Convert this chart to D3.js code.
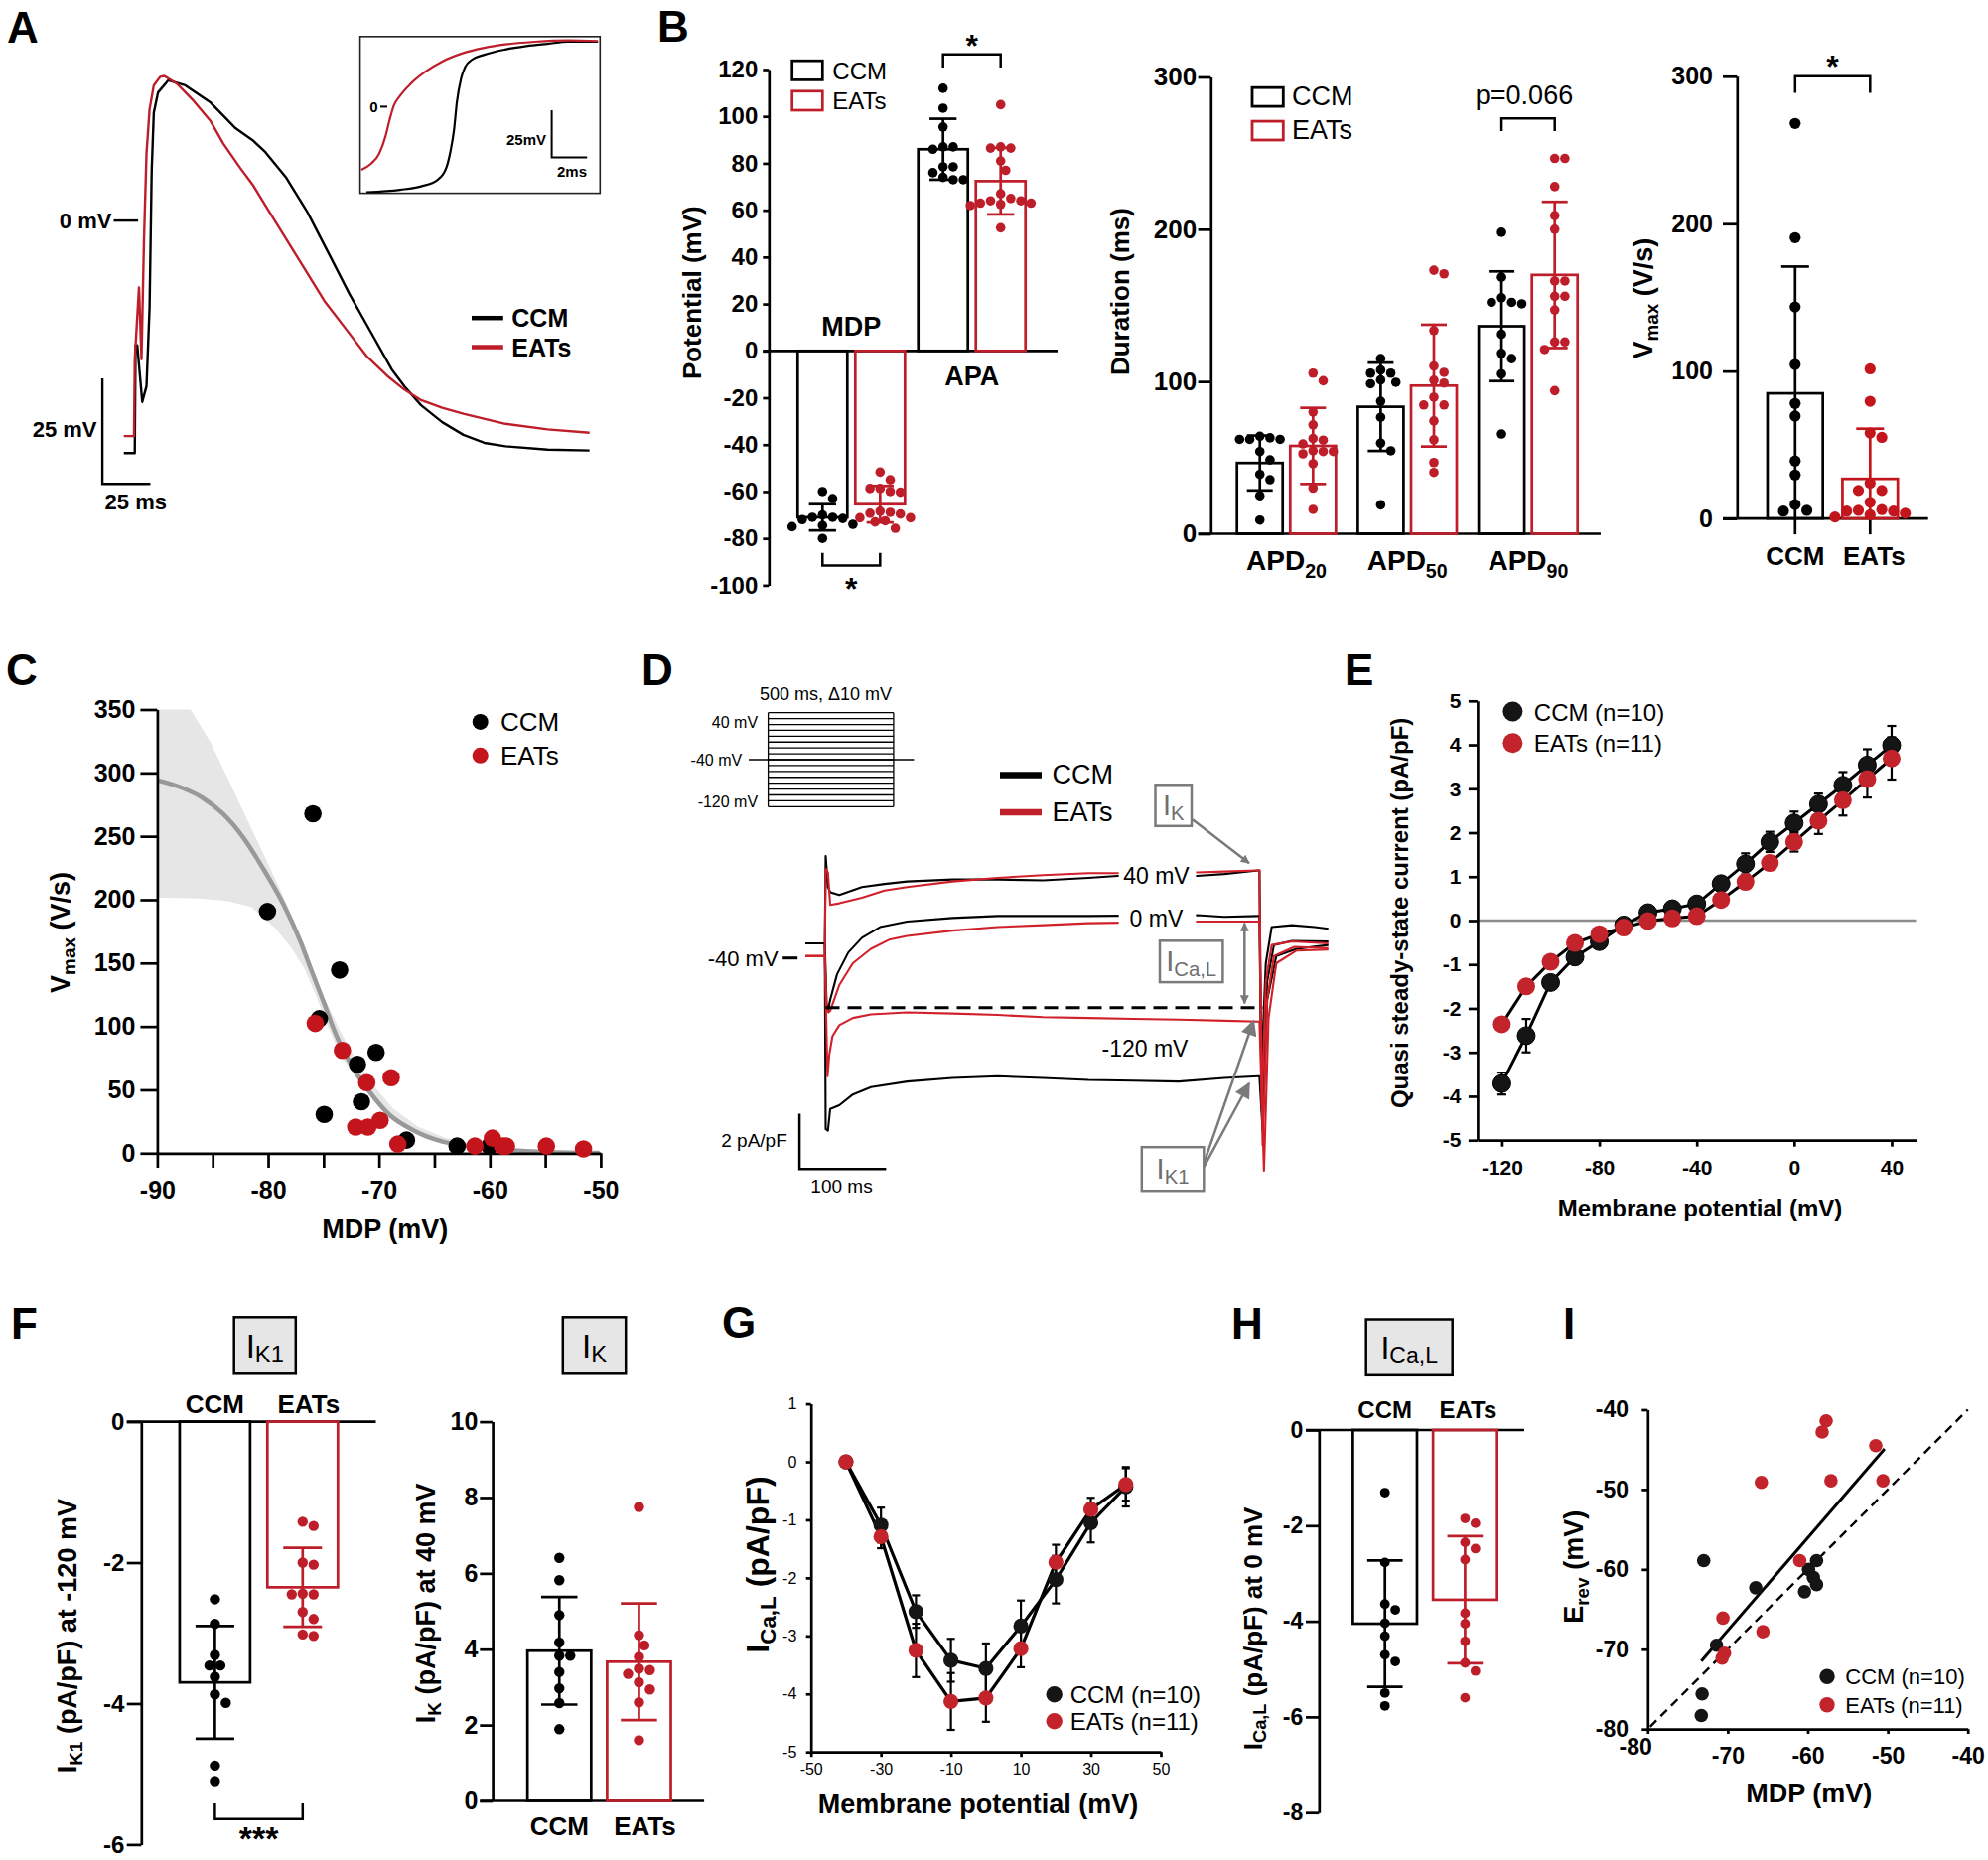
<!DOCTYPE html>
<html><head><meta charset="utf-8"><title>Figure</title>
<script src="https://cdn.jsdelivr.net/npm/d3@7/dist/d3.min.js"></script>
<style>html,body{margin:0;padding:0;background:#fff;}svg{display:block;}</style>
</head><body>
<svg id="fig" width="2002" height="1873" viewBox="0 0 2002 1873"></svg>
<script>
// ======================= DATA =======================
// A: representative action potentials [time (ms), Vm (mV)]
const apCCM = [[0,-55.0],[5.7,-55.0],[6.1,-29.5],[7.0,-29.5],[9.6,-42.9],[11.8,-39.2],[13.4,-20.6],[14.5,11.7],[15.6,25.5],[17.8,30.3],[23.2,33.2],[32.0,32.0],[45.2,27.9],[58.3,21.8],[67.1,19.0],[73.7,16.2],[84.6,10.1],[95.6,2.0],[106.6,-7.7],[117.5,-17.4],[128.5,-26.3],[139.5,-35.2],[146.1,-39.2],[154.8,-43.7],[165.8,-47.7],[176.8,-50.7],[187.7,-52.6],[198.7,-53.4],[220.6,-54.2],[242.5,-54.4]];
const apEATs = [[0,-51.0],[5.3,-51.0],[5.7,-32.8],[7.9,-15.8],[9.2,-32.8],[10.5,-4.4],[11.8,15.8],[13.4,26.3],[15.6,32.0],[18.9,34.0],[21.1,34.2],[27.6,32.4],[36.4,28.3],[45.2,23.5],[51.8,18.2],[60.5,12.5],[67.1,8.5],[73.7,3.6],[84.6,-4.4],[93.4,-10.9],[104.4,-19.0],[115.4,-25.5],[126.3,-32.0],[137.3,-36.8],[146.1,-40.0],[154.8,-42.5],[165.8,-44.3],[176.8,-45.7],[198.7,-48.1],[220.6,-49.4],[242.5,-50.2]];
// A inset: upstroke detail [time (ms), Vm (mV)]
const upCCM = [[0.29,-45.3],[2.19,-44.0],[3.38,-42.2],[4.33,-38.6],[4.81,-32.2],[5.05,-23.2],[5.24,-12.3],[5.40,2.2],[5.64,14.9],[5.88,21.2],[6.24,24.8],[6.95,27.5],[8.14,30.3],[9.33,32.1],[10.52,33.3],[11.71,34.4],[13.38,34.4]];
const upEATs = [[0,-33.5],[0.52,-30.4],[1.0,-25.0],[1.36,-15.9],[1.6,-6.9],[1.83,0.4],[2.19,5.8],[2.79,12.1],[3.62,18.5],[4.57,23.9],[5.76,28.4],[6.95,31.2],[8.14,33.0],[9.81,34.4],[11.71,35.1],[13.38,34.8]];

// B: MDP / APA (mV)
const groupNames = ["CCM", "EATs"];
const potCats = ["MDP", "APA"];
const potTicks = [-100,-80,-60,-40,-20,0,20,40,60,80,100,120];
const potMeanCCM = [-71.0, 86.0];
const potSdCCM = [5.6, 13.0];
const potMeanEATs = [-65.4, 72.4];
const potSdEATs = [7.8, 14.2];
const mdpCCM = [-63,-60,-71,-71.5,-71,-70,-72,-74.5,-75,-74,-80];
const mdpEATs = [-51.7,-55,-58.7,-60.3,-60,-58.7,-68.4,-69.6,-69.3,-68.9,-71.2,-71.2,-72.5,-73,-75.7];
const apaCCM = [112,103.5,95.5,87,86,87,78.5,78.5,76,74,73,73];
const apaEATs = [105,87,86.5,86.5,81,77,67,64,63,62,65,63,62.5,64,52.5];
// B: APD (ms)
const apdCats = ["20", "50", "90"];
const apdTicks = [0, 100, 200, 300];
const apdMeanCCM = [46.5, 83.4, 136.3];
const apdSdCCM = [18, 29, 36];
const apdMeanEATs = [57.7, 97.3, 170];
const apdSdEATs = [25, 40, 48];
const apd20CCM = [62,62,62,63,64,54,48.5,39,35.5,25,9];
const apd20EATs = [100.5,105.5,80,71.5,62.5,61.5,54.5,54,54,59,52.5,46,30,16];
const apd50CCM = [115,101,105.5,105.5,107.5,98.5,99.5,87,76.5,59.5,54.5,19];
const apd50EATs = [170.7,173.1,133.5,110.2,106,100.9,99,84.6,89.7,84.6,74.1,61.7,46.8,40.3];
const apd90CCM = [198,168.5,152,155,152,151,131,115,118.5,105,65.5];
const apd90EATs = [246.5,246.5,228,209,200,166,166,156,156,147,126,126,121,94];
// B: Vmax (V/s)
const vmaxTicks = [0, 100, 200, 300];
const vmaxMean = [84.9, 26.9];
const vmaxSd = [86, 34];
const vmaxCCM = [268,190.5,143.5,104.5,78,69.5,39,29.5,9.5,5,5.5];
const vmaxEATs = [101.5,79.5,55,58,24,19,19,11,5,2.5,5,5.5,3.5,6,1];

// C: Vmax vs MDP [MDP mV, Vmax V/s]
const cTicksX = [-90,-85,-80,-75,-70,-65,-60,-55,-50];
const cTicksY = [0,50,100,150,200,250,300,350];
const cCCM = [[-75.96,267.8],[-80.06,190.7],[-73.55,144.5],[-75.38,106.1],[-71.94,70.2],[-70.26,79.6],[-71.58,40.6],[-74.94,30.6],[-67.52,10.3],[-62.95,5.6],[-60.03,5.6]];
const cEATs = [[-75.75,102.4],[-73.3,81.1],[-71.1,55.6],[-68.9,59.6],[-72.1,20.6],[-71.0,20.6],[-69.9,25.9],[-68.3,7.2],[-61.35,5.6],[-59.77,11.9],[-58.86,5.6],[-58.5,5.6],[-54.9,5.6],[-51.55,3.4]];
const cFit = [[-90,294.3],[-87.73,288.1],[-85.91,280.3],[-84.08,267.8],[-82.25,249.1],[-80.42,224.1],[-78.6,196.0],[-77.13,167.9],[-76.04,142.9],[-74.94,118.0],[-73.85,93.0],[-72.38,68.0],[-70.92,49.3],[-69.09,30.6],[-66.9,18.1],[-64.71,10.3],[-62.15,5.6],[-58.5,2.5],[-54.84,0.9],[-50.1,0.3]];
const cBandUpper = [[-90,350],[-87.0,350],[-85.18,324.0],[-82.98,283.4],[-80.79,242.8],[-78.6,202.2],[-77.13,171.0],[-76.04,146.1],[-74.94,122.7],[-73.48,96.1],[-72.02,72.7],[-70.56,54.0],[-68.73,35.3],[-66.54,21.2],[-63.98,11.9],[-60.32,5.0],[-56.67,1.9],[-50.1,0.6]];
const cBandLower = [[-90,201.6],[-87.73,201.3],[-85.91,200.7],[-83.71,199.1],[-81.52,194.4],[-79.33,177.3],[-77.87,161.7],[-76.77,146.1],[-75.67,124.2],[-74.58,99.3],[-73.48,77.4],[-72.02,58.7],[-70.56,43.1],[-68.36,23.7],[-65.8,11.2],[-63.98,6.9],[-60.32,2.5],[-56.67,0.9],[-50.1,0.3]];

// D: current traces [time from step onset (ms), current (pA/pF)]
const protoLevels = [40,30,20,10,0,-10,-20,-30,-40,-50,-60,-70,-80,-90,-100,-110,-120];
const d40CCM = [[-23.5,2.33],[-1,2.33],[0,5.49],[2.6,4.37],[5.2,4.18],[15.7,4.08],[41.8,4.37],[67.9,4.48],[94,4.57],[146.3,4.64],[198.5,4.64],[250.8,4.61],[303,4.70],[337,4.77],[428.4,4.77],[459.8,4.84],[499,4.97],[500.5,4.97],[502.6,-2.35],[507.8,1.61],[514.6,2.92],[538.1,2.99],[564.3,2.92],[580,2.86]];
const d40EATs = [[-23.5,1.87],[-1,1.87],[0,5.03],[2.6,4.90],[5.2,3.72],[15.7,3.78],[41.8,3.98],[67.9,4.24],[94,4.37],[146.3,4.57],[198.5,4.70],[250.8,4.80],[303,4.87],[337,4.87],[428.4,4.90],[459.8,4.93],[499,4.97],[500.5,4.97],[503.1,-3.66],[507.8,0.95],[514.6,2.27],[538.1,2.40],[580,2.33]];
const d0CCM = [[-23.5,2.33],[-1,2.33],[1,0.16],[2.6,-0.11],[5.2,0.29],[13.1,1.21],[26.1,2.0],[41.8,2.53],[62.7,2.92],[94,3.12],[146.3,3.25],[198.5,3.32],[250.8,3.32],[303,3.32],[428.4,3.35],[459.8,3.29],[499,3.32],[500.5,3.32],[503.1,-3.66],[509.4,0.95],[517.2,2.27],[538.1,2.42],[580,2.40]];
const d0EATs = [[-23.5,1.87],[-1,1.87],[1,0.03],[3.1,-0.17],[5.2,-0.11],[15.7,0.82],[31.3,1.61],[52.2,2.13],[73.1,2.46],[94,2.60],[146.3,2.79],[198.5,2.92],[250.8,2.99],[303,3.06],[428.4,3.12],[459.8,3.12],[499,3.12],[500.5,3.12],[504.2,-4.98],[509.4,0.29],[517.2,1.87],[540.8,2.20],[580,2.16]];
const d120CCM = [[-23.5,2.33],[-1,2.33],[0,-4.39],[2.6,-4.45],[5.2,-3.66],[15.7,-3.53],[31.3,-3.14],[52.2,-2.87],[94,-2.67],[146.3,-2.54],[198.5,-2.48],[250.8,-2.54],[303,-2.61],[355.3,-2.64],[407.5,-2.67],[459.8,-2.54],[499,-2.48],[500.5,-2.48],[504.2,-4.45],[509.4,0.29],[519.9,1.87],[543.4,2.13],[580,2.27]];
const d120EATs = [[-23.5,1.87],[-1,1.87],[2.1,-2.48],[4.2,-1.69],[7.8,-1.03],[15.7,-0.63],[31.3,-0.37],[52.2,-0.24],[94,-0.17],[146.3,-0.21],[198.5,-0.26],[250.8,-0.34],[303,-0.37],[355.3,-0.40],[407.5,-0.43],[459.8,-0.47],[499,-0.50],[500.5,-0.50],[505.7,-5.90],[511,-0.37],[519.9,1.61],[543.4,2.07],[580,2.11]];

// E: quasi steady-state I-V (mean, SEM)
const eV = [-120,-110,-100,-90,-80,-70,-60,-50,-40,-30,-20,-10,0,10,20,30,40];
const eTicksX = [-120,-80,-40,0,40];
const eTicksY = [-5,-4,-3,-2,-1,0,1,2,3,4,5];
const eCCM = [-3.71,-2.62,-1.41,-0.83,-0.48,-0.10,0.18,0.27,0.38,0.84,1.29,1.79,2.22,2.65,3.08,3.54,3.99];
const eCCMsem = [0.25,0.38,0.12,0.12,0.08,0.05,0.05,0.05,0.08,0.1,0.24,0.23,0.26,0.24,0.3,0.36,0.44];
const eEATs = [-2.36,-1.50,-0.94,-0.51,-0.31,-0.16,-0.01,0.05,0.10,0.47,0.88,1.31,1.79,2.27,2.74,3.22,3.69];
const eEATsSem = [0.1,0.1,0.08,0.08,0.05,0.05,0.05,0.05,0.05,0.1,0.15,0.15,0.22,0.3,0.35,0.42,0.48];

// F: IK1 at -120 mV, IK at 40 mV (pA/pF)
const ik1Ticks = [-6,-4,-2,0];
const ik1Mean = [-3.70, -2.35];
const ik1Sd = [0.80, 0.56];
const ik1CCM = [-2.52,-2.87,-3.31,-3.46,-3.46,-3.62,-3.99,-3.87,-4.88,-5.10];
const ik1EATs = [-1.48,-1.42,-2.03,-2.0,-2.44,-2.45,-2.45,-2.80,-2.70,-3.04,-3.02];
const ikTicks = [0,2,4,6,8,10];
const ikMean = [3.96, 3.67];
const ikSd = [1.42, 1.54];
const ikCCM = [6.41,5.82,4.90,4.18,3.83,3.83,3.40,2.97,2.58,1.89];
const ikEATs = [7.75,4.37,4.10,3.80,3.49,3.45,3.35,3.13,2.94,2.60,1.60];

// G: ICa,L I-V (mean, SEM)
const gV = [-40,-30,-20,-10,0,10,20,30,40];
const gTicksX = [-50,-30,-10,10,30,50];
const gTicksY = [-5,-4,-3,-2,-1,0,1];
const gCCM = [0,-1.09,-2.58,-3.42,-3.56,-2.83,-2.03,-1.05,-0.43];
const gCCMsem = [0,0.3,0.28,0.37,0.43,0.44,0.41,0.34,0.34];
const gEATs = [0,-1.29,-3.25,-4.13,-4.07,-3.22,-1.73,-0.82,-0.39];
const gEATsSem = [0,0.2,0.46,0.49,0.41,0.32,0.3,0.2,0.28];

// H: ICa,L at 0 mV (pA/pF)
const caTicks = [-8,-6,-4,-2,0];
const caMean = [-4.05, -3.55];
const caSd = [1.32, 1.33];
const caCCM = [-1.31,-2.77,-3.76,-3.64,-4.04,-4.31,-4.84,-4.70,-5.50,-5.77];
const caEATs = [-1.95,-1.85,-2.48,-2.35,-2.71,-3.83,-4.05,-4.42,-4.87,-5.04,-5.60];

// I: Erev vs MDP [MDP mV, Erev mV]
const iTicks = [-80,-70,-60,-50,-40];
const iCCM = [[-73.0,-58.9],[-66.5,-62.3],[-71.4,-69.5],[-73.2,-75.6],[-73.3,-78.3],[-59.9,-60.0],[-58.9,-58.9],[-59.3,-61.0],[-58.9,-61.9],[-60.4,-62.8]];
const iEATs = [[-57.7,-41.4],[-58.2,-42.8],[-51.5,-44.5],[-65.8,-49.1],[-57.1,-48.9],[-50.6,-48.9],[-61.0,-58.9],[-70.6,-66.1],[-65.6,-67.8],[-70.4,-70.5],[-70.7,-71.1]];
const iFitX = [-73.3, -50.4];
const iFitY = [-71.5, -44.9];
const iIdentity = [-79.7, -40];

// ======================= DRAWING =======================
const FONT = '"Liberation Sans", Arial, Helvetica, sans-serif';
const RED = "#bd1e2a";
const DOTRED = "#c4141c";
const MRED = "#c3232b";
const GRAY = "#7a7a7a";

const svg = d3.select("#fig").attr("font-family", FONT);
svg.append("rect").attr("width", 2002).attr("height", 1873).attr("fill", "#fff");
const defs = svg.append("defs");

function text(parent, x, y, parts, o = {}) {
  const size = o.size || 20;
  const t = parent.append("text").attr("x", x).attr("y", y)
    .attr("font-family", FONT).attr("font-size", size)
    .attr("font-weight", o.bold ? "bold" : "normal")
    .attr("text-anchor", o.anchor || "middle")
    .attr("fill", o.fill || "#000");
  if (o.central) t.attr("dominant-baseline", "central");
  if (o.rot) t.attr("transform", `rotate(${o.rot},${x},${y})`);
  if (!Array.isArray(parts)) parts = [parts];
  let shift = 0;
  const sub = size * (o.subDy || 0.3);
  parts.forEach(p => {
    const isSub = Array.isArray(p);
    const ts = t.append("tspan").text(isSub ? p[0] : p);
    const target = isSub ? sub : 0;
    if (target !== shift) { ts.attr("dy", target - shift); shift = target; }
    if (isSub) ts.attr("font-size", size * (o.subScale || 0.7));
  });
  return t;
}
function styleAxis(g, size, bold, sw) {
  g.attr("font-family", FONT);
  g.select(".domain").attr("stroke", "#000").attr("stroke-width", sw);
  g.selectAll(".tick line").attr("stroke", "#000").attr("stroke-width", sw);
  g.selectAll(".tick text").attr("font-size", size).attr("font-weight", bold ? "bold" : "normal")
    .attr("fill", "#000").attr("font-family", FONT);
}
function hline(g, x1, x2, y, sw, color = "#000") {
  g.append("line").attr("x1", x1).attr("x2", x2).attr("y1", y).attr("y2", y).attr("stroke", color).attr("stroke-width", sw);
}
function vline(g, x, y1, y2, sw, color = "#000") {
  g.append("line").attr("x1", x).attr("x2", x).attr("y1", y1).attr("y2", y2).attr("stroke", color).attr("stroke-width", sw);
}
// simple beeswarm: dots keep their value on y, spread sideways only when they would overlap
function swarm(vals, y, cx, r) {
  const d = 2 * r + 0.6;
  const pts = vals.map(v => ({ v, y: y(v) })).sort((a, b) => a.y - b.y);
  const placed = [];
  pts.forEach(p => {
    let off = 0;
    for (let n = 0; n < 80; n++) {
      const k = Math.ceil(n / 2);
      off = n === 0 ? 0 : (n % 2 ? k : -k) * d * 0.5;
      const ok = placed.every(q => (q.x - (cx + off)) ** 2 + (q.y - p.y) ** 2 >= (d * 0.97) ** 2);
      if (ok) break;
    }
    p.x = cx + off;
    placed.push(p);
  });
  return placed;
}
function barSeries(g, cx, w, y, mean, sd, color, vals, r, capW, sw) {
  const y0 = y(0), ym = y(mean);
  g.append("rect").attr("x", cx - w / 2).attr("y", Math.min(y0, ym))
    .attr("width", w).attr("height", Math.abs(ym - y0))
    .attr("fill", "none").attr("stroke", color).attr("stroke-width", sw);
  let lo = mean - sd, hi = mean + sd;
  const cutLo = mean > 0 && lo < 0, cutHi = mean < 0 && hi > 0;
  if (cutLo) lo = 0;
  if (cutHi) hi = 0;
  vline(g, cx, y(lo), y(hi), sw, color);
  if (!cutHi) hline(g, cx - capW / 2, cx + capW / 2, y(hi), sw, color);
  if (!cutLo) hline(g, cx - capW / 2, cx + capW / 2, y(lo), sw, color);
  const pts = swarm(vals, y, cx, r);
  g.selectAll(null).data(pts).enter().append("circle")
    .attr("cx", d => d.x).attr("cy", d => d.y).attr("r", r).attr("fill", color);
}
function errBars(g, xs, ys, es, x, y, capW, sw) {
  xs.forEach((v, i) => {
    if (!es[i]) return;
    const cx = x(v), a = y(ys[i] - es[i]), b = y(ys[i] + es[i]);
    vline(g, cx, a, b, sw);
    hline(g, cx - capW / 2, cx + capW / 2, a, sw);
    hline(g, cx - capW / 2, cx + capW / 2, b, sw);
  });
}
function grayBox(g, x, y, w, h, parts, size) {
  g.append("rect").attr("x", x).attr("y", y).attr("width", w).attr("height", h)
    .attr("fill", "#e6e6e6").attr("stroke", "#000").attr("stroke-width", 2.5);
  text(g, x + w / 2, y + h / 2, parts, { size, central: true, subScale: 0.72, subDy: 0.26 });
}

// Panel letters
[["A", 7, 43], ["B", 662, 42], ["C", 6, 690], ["D", 646, 689.5], ["E", 1354, 690],
 ["F", 11, 1347.5], ["G", 727, 1346.5], ["H", 1240, 1347.5], ["I", 1574, 1347.5]].forEach(([s, x, y]) => {
  text(svg, x, y, s, { size: 44, bold: true, anchor: "start" });
});

// ---------------- Panel A ----------------
{
  const g = svg.append("g");
  const x = d3.scaleLinear().domain([0, 250]).range([124.7, 124.7 + 1.934 * 250]);
  const y = d3.scaleLinear().domain([-60, 40]).range([222.1 + 4.256 * 60, 222.1 - 4.256 * 40]);
  const line = d3.line().x(d => x(d[0])).y(d => y(d[1]));
  g.append("path").datum(apCCM).attr("d", line).attr("fill", "none").attr("stroke", "#000").attr("stroke-width", 2.4).attr("stroke-linejoin", "round");
  g.append("path").datum(apEATs).attr("d", line).attr("fill", "none").attr("stroke", RED).attr("stroke-width", 2.4).attr("stroke-linejoin", "round");
  hline(g, x(0) - 10.2, x(0) + 14.4, y(0), 2.4);
  text(g, x(0) - 12.3, y(0), "0 mV", { size: 22, bold: true, anchor: "end", central: true });
  const sbx = 103.1, sby = 487.3;
  g.append("path").attr("d", `M${sbx},${sby - (y(0) - y(25))}V${sby}H${sbx + (x(25) - x(0))}`)
    .attr("fill", "none").attr("stroke", "#000").attr("stroke-width", 2.4);
  text(g, 97.5, 432.2, "25 mV", { size: 22, bold: true, anchor: "end", central: true });
  text(g, 136.8, 504.5, "25 ms", { size: 22, bold: true, central: true });
  hline(g, 475, 506.8, 320.2, 4.5);
  hline(g, 475, 506.8, 349.5, 4.5, RED);
  text(g, 515.3, 320.2, "CCM", { size: 25, bold: true, anchor: "start", central: true });
  text(g, 515.3, 349.5, "EATs", { size: 25, bold: true, anchor: "start", central: true });
  // inset
  const bx = 362.6, by = 36.8, bw = 241.7, bh = 157.8;
  defs.append("clipPath").attr("id", "insetClip").append("rect").attr("x", bx).attr("y", by).attr("width", bw).attr("height", bh);
  g.append("rect").attr("x", bx).attr("y", by).attr("width", bw).attr("height", bh).attr("fill", "#fff").attr("stroke", "#222").attr("stroke-width", 1.6);
  const xi = d3.scaleLinear().domain([0, 13.5]).range([363.9, 363.9 + 17.81 * 13.5]);
  const yi = d3.scaleLinear().domain([-50, 40]).range([107.4 + 1.901 * 50, 107.4 - 1.901 * 40]);
  const li = d3.line().x(d => xi(d[0])).y(d => yi(d[1])).curve(d3.curveMonotoneX);
  const gc = g.append("g").attr("clip-path", "url(#insetClip)");
  gc.append("path").datum(upCCM).attr("d", li).attr("fill", "none").attr("stroke", "#000").attr("stroke-width", 2.2);
  gc.append("path").datum(upEATs).attr("d", li).attr("fill", "none").attr("stroke", RED).attr("stroke-width", 2.2);
  const ix = 555.6, iy = 158.4;
  g.append("path").attr("d", `M${ix},${iy - (yi(0) - yi(25))}V${iy}H${ix + (xi(2) - xi(0))}`)
    .attr("fill", "none").attr("stroke", "#000").attr("stroke-width", 2);
  text(g, 550, 139.5, "25mV", { size: 15, bold: true, anchor: "end", central: true });
  text(g, 576, 172.2, "2ms", { size: 15, bold: true, central: true });
  text(g, 372.3, yi(0), "0", { size: 15, bold: true, anchor: "start", central: true });
  hline(g, 383, 390, yi(0), 2);
}

// ---------------- Panel B (potentials) ----------------
{
  const g = svg.append("g");
  const y = d3.scaleLinear().domain([-100, 120]).range([589.4, 70]);
  const xg = d3.scaleBand().domain(potCats).range([796.6, 1039.4]);
  const xi = d3.scaleBand().domain(groupNames).range([6.7, 114.7]).paddingInner(0.138);
  const ax = g.append("g").attr("transform", "translate(774.3,0)")
    .call(d3.axisLeft(y).tickValues(potTicks).tickFormat(d => String(d)).tickSize(6).tickPadding(5).tickSizeOuter(0));
  styleAxis(ax, 24, true, 2.7);
  hline(g, 768.3, 1065, y(0), 2.7);
  const valsC = [mdpCCM, apaCCM], valsE = [mdpEATs, apaEATs];
  const bw = xi.bandwidth();
  const cen = (c, s) => xg(c) + xi(s) + bw / 2;
  potCats.forEach((c, i) => {
    barSeries(g, cen(c, "CCM"), bw, y, potMeanCCM[i], potSdCCM[i], "#000", valsC[i], 4.8, 27.3, 2.7);
    barSeries(g, cen(c, "EATs"), bw, y, potMeanEATs[i], potSdEATs[i], RED, valsE[i], 4.8, 27.3, 2.7);
  });
  text(g, xg("MDP") + xg.bandwidth() / 2, 329.1, "MDP", { size: 27, bold: true, central: true });
  text(g, xg("APA") + xg.bandwidth() / 2, 378.9, "APA", { size: 27, bold: true, central: true });
  g.append("path").attr("d", `M${cen("APA","CCM")},68.1V54.7H${cen("APA","EATs")}V68.1`).attr("fill", "none").attr("stroke", "#000").attr("stroke-width", 2.5);
  text(g, (cen("APA","CCM") + cen("APA","EATs")) / 2, 57, "*", { size: 32, bold: true });
  g.append("path").attr("d", `M${cen("MDP","CCM")},556.8V569.5H${cen("MDP","EATs")}V556.8`).attr("fill", "none").attr("stroke", "#000").attr("stroke-width", 2.5);
  text(g, (cen("MDP","CCM") + cen("MDP","EATs")) / 2, 604, "*", { size: 32, bold: true });
  // legend
  g.append("rect").attr("x", 797.7).attr("y", 61.2).attr("width", 30.6).attr("height", 19.2).attr("fill", "none").attr("stroke", "#000").attr("stroke-width", 2.7);
  g.append("rect").attr("x", 797.7).attr("y", 91.8).attr("width", 30.6).attr("height", 19.2).attr("fill", "none").attr("stroke", RED).attr("stroke-width", 2.7);
  text(g, 838.3, 70.8, "CCM", { size: 24, anchor: "start", central: true });
  text(g, 838.3, 101.4, "EATs", { size: 24, anchor: "start", central: true });
  text(g, 696.7, 294.7, "Potential (mV)", { size: 26, bold: true, central: true, rot: -90 });
}

// ---------------- Panel B (APD) ----------------
{
  const g = svg.append("g");
  const y = d3.scaleLinear().domain([0, 300]).range([537.5, 77.5]);
  const xg = d3.scaleBand().domain(apdCats).range([1234.65, 1599.75]);
  const xi = d3.scaleBand().domain(groupNames).range([11.05, 110.65]).paddingInner(0.1418);
  const ax = g.append("g").attr("transform", "translate(1219.3,0)")
    .call(d3.axisLeft(y).tickValues(apdTicks).tickSize(12.7).tickPadding(1.5).tickSizeOuter(0));
  styleAxis(ax, 26, true, 2.7);
  hline(g, 1206.7, 1612, y(0), 2.7);
  const valsC = [apd20CCM, apd50CCM, apd90CCM], valsE = [apd20EATs, apd50EATs, apd90EATs];
  const bw = xi.bandwidth();
  const cen = (c, s) => xg(c) + xi(s) + bw / 2;
  apdCats.forEach((c, i) => {
    barSeries(g, cen(c, "CCM"), bw, y, apdMeanCCM[i], apdSdCCM[i], "#000", valsC[i], 4.8, 26, 2.7);
    barSeries(g, cen(c, "EATs"), bw, y, apdMeanEATs[i], apdSdEATs[i], RED, valsE[i], 4.8, 26, 2.7);
    text(g, xg(c) + xg.bandwidth() / 2, 574, ["APD", [c]], { size: 28, bold: true, subScale: 0.7, subDy: 0.28 });
  });
  g.append("path").attr("d", `M${cen("90","CCM")},132.1V119.3H${cen("90","EATs")}V132.1`).attr("fill", "none").attr("stroke", "#000").attr("stroke-width", 2.5);
  text(g, 1535, 96.4, "p=0.066", { size: 27, central: true });
  g.append("rect").attr("x", 1261).attr("y", 88.2).attr("width", 31.3).attr("height", 18.9).attr("fill", "none").attr("stroke", "#000").attr("stroke-width", 2.8);
  g.append("rect").attr("x", 1261).attr("y", 122.1).attr("width", 31.3).attr("height", 18.9).attr("fill", "none").attr("stroke", RED).attr("stroke-width", 2.8);
  text(g, 1301, 97.1, "CCM", { size: 27, anchor: "start", central: true });
  text(g, 1301, 131.1, "EATs", { size: 27, anchor: "start", central: true });
  text(g, 1128.3, 293.6, "Duration (ms)", { size: 26, bold: true, central: true, rot: -90 });
}

// ---------------- Panel B (Vmax) ----------------
{
  const g = svg.append("g");
  const y = d3.scaleLinear().domain([0, 300]).range([522.1, 76.8]);
  const xb = d3.scaleBand().domain(groupNames).range([1742.2, 1948.9]).paddingInner(0.262).paddingOuter(0.5);
  const ax = g.append("g").attr("transform", "translate(1749.3,0)")
    .call(d3.axisLeft(y).tickValues(vmaxTicks).tickSize(14.3).tickPadding(10).tickSizeOuter(0));
  styleAxis(ax, 25, true, 2.7);
  hline(g, 1735, 1941.7, y(0), 2.7);
  const bw = xb.bandwidth();
  const cc = xb("CCM") + bw / 2, ce = xb("EATs") + bw / 2;
  vline(g, cc, y(0), y(0) + 16, 2.7);
  vline(g, ce, y(0), y(0) + 16, 2.7);
  barSeries(g, cc, bw, y, vmaxMean[0], vmaxSd[0], "#000", vmaxCCM, 5.6, 28, 2.7);
  barSeries(g, ce, bw, y, vmaxMean[1], vmaxSd[1], DOTRED, vmaxEATs, 5.6, 28, 2.7);
  text(g, cc, 559.6, "CCM", { size: 26, bold: true, central: true });
  text(g, ce + 4, 559.6, "EATs", { size: 26, bold: true, central: true });
  g.append("path").attr("d", `M${cc},93.6V76.8H${ce}V93.6`).attr("fill", "none").attr("stroke", "#000").attr("stroke-width", 2.5);
  text(g, (cc + ce) / 2, 78, "*", { size: 32, bold: true });
  text(g, 1655, 300.7, ["V", ["max"], " (V/s)"], { size: 27, bold: true, central: true, rot: -90 });
}

// ---------------- Panel C ----------------
{
  const g = svg.append("g");
  const x = d3.scaleLinear().domain([-90, -50]).range([158.4, 604.9]);
  const y = d3.scaleLinear().domain([0, 350]).range([1161.3, 714.5]);
  const ln = d3.line().x(d => x(d[0])).y(d => y(d[1]));
  g.append("path").attr("d", ln(cBandUpper.concat(cBandLower.slice().reverse())) + "Z").attr("fill", "#e6e6e6");
  g.append("path").datum(cFit).attr("d", ln.curve(d3.curveMonotoneX)).attr("fill", "none").attr("stroke", "#999").attr("stroke-width", 4.5);
  const axY = g.append("g").attr("transform", `translate(${x(-90)},0)`)
    .call(d3.axisLeft(y).tickValues(cTicksY).tickSize(17).tickPadding(5).tickSizeOuter(0));
  styleAxis(axY, 25, true, 2.7);
  const axX = g.append("g").attr("transform", `translate(0,${y(0)})`)
    .call(d3.axisBottom(x).tickValues(cTicksX).tickFormat(d => (d % 10 === 0 ? String(d) : "")).tickSize(14.7).tickPadding(13).tickSizeOuter(0));
  styleAxis(axX, 25, true, 2.7);
  g.selectAll(null).data(cCCM).enter().append("circle").attr("cx", d => x(d[0])).attr("cy", d => y(d[1])).attr("r", 8.8).attr("fill", "#000");
  g.selectAll(null).data(cEATs).enter().append("circle").attr("cx", d => x(d[0])).attr("cy", d => y(d[1])).attr("r", 8.8).attr("fill", DOTRED);
  g.append("circle").attr("cx", 483.7).attr("cy", 726.9).attr("r", 8).attr("fill", "#000");
  g.append("circle").attr("cx", 483.7).attr("cy", 760.8).attr("r", 8).attr("fill", DOTRED);
  text(g, 504, 726.9, "CCM", { size: 26, anchor: "start", central: true });
  text(g, 504, 760.8, "EATs", { size: 26, anchor: "start", central: true });
  text(g, 387.8, 1237.8, "MDP (mV)", { size: 27, bold: true, central: true });
  text(g, 61.2, 939, ["V", ["max"], " (V/s)"], { size: 27, bold: true, central: true, rot: -90 });
}

// ---------------- Panel D ----------------
{
  const g = svg.append("g");
  const x = d3.scaleLinear().domain([0, 500]).range([831.5, 831.5 + 0.8728 * 500]);
  const y = d3.scaleLinear().domain([0, 1]).range([1014.8, 1014.8 - 27.83]);
  const ln = d3.line().x(d => x(d[0])).y(d => y(d[1]));
  [d40CCM, d0CCM, d120CCM].forEach(tr => g.append("path").datum(tr).attr("d", ln).attr("fill", "none").attr("stroke", "#000").attr("stroke-width", 2.1).attr("stroke-linejoin", "round"));
  [d40EATs, d0EATs, d120EATs].forEach(tr => g.append("path").datum(tr).attr("d", ln).attr("fill", "none").attr("stroke", "#d0202a").attr("stroke-width", 2.1).attr("stroke-linejoin", "round"));
  // gap where the step labels sit
  g.append("rect").attr("x", x(337) + 1).attr("y", y(5.4)).attr("width", x(428.4) - x(337) - 2).attr("height", y(2.7) - y(5.4)).attr("fill", "#fff");
  text(g, 1164.4, 882, "40 mV", { size: 23, central: true });
  text(g, 1164.4, 925.3, "0 mV", { size: 23, central: true });
  text(g, 1153, 1056.2, "-120 mV", { size: 23, central: true });
  g.append("line").attr("x1", x(0)).attr("x2", x(504.6)).attr("y1", y(0)).attr("y2", y(0))
    .attr("stroke", "#000").attr("stroke-width", 3).attr("stroke-dasharray", "14,8");
  text(g, 783.6, y(1.8), "-40 mV", { size: 22, anchor: "end", central: true });
  hline(g, 788.2, 803.2, y(1.8), 3);
  // scale bars
  const sx = 805.1, sy = 1177.2;
  g.append("path").attr("d", `M${sx},${sy - (y(0) - y(2))}V${sy}H${sx + (x(100) - x(0))}`).attr("fill", "none").attr("stroke", "#000").attr("stroke-width", 2.5);
  text(g, 792.8, 1147.9, "2 pA/pF", { size: 19, anchor: "end", central: true });
  text(g, 847.5, 1193.7, "100 ms", { size: 19, central: true });
  // protocol
  const xp = d3.scaleLinear().domain([0, 500]).range([773.6, 899.9]);
  const yp = d3.scaleLinear().domain([-120, 40]).range([812.3, 717.7]);
  protoLevels.forEach(v => hline(g, xp(0), xp(500), yp(v), 1.3));
  vline(g, xp(0), yp(40), yp(-120), 1.3);
  vline(g, xp(500), yp(40), yp(-120), 1.3);
  hline(g, 754, 920.4, yp(-40), 1.5);
  text(g, 831.5, 698.7, "500 ms, \u039410 mV", { size: 18, central: true });
  text(g, 763.1, 726.9, "40 mV", { size: 16, anchor: "end", central: true });
  text(g, 747.2, yp(-40), "-40 mV", { size: 16, anchor: "end", central: true });
  text(g, 763.1, 806.9, "-120 mV", { size: 16, anchor: "end", central: true });
  // legend
  hline(g, 1007, 1049, 780.4, 6.5);
  hline(g, 1007, 1049, 817.9, 6.5, "#c0202a");
  text(g, 1059.5, 780.4, "CCM", { size: 27, anchor: "start", central: true });
  text(g, 1059.5, 817.9, "EATs", { size: 27, anchor: "start", central: true });
  // annotations
  const mk = (id, w) => defs.append("marker").attr("id", id).attr("viewBox", "0 0 10 10").attr("refX", 9).attr("refY", 5)
    .attr("markerWidth", w).attr("markerHeight", w * 0.8).attr("orient", "auto-start-reverse")
    .append("path").attr("d", "M0,0 L10,5 L0,10 z").attr("fill", GRAY);
  mk("arrS", 4.5); mk("arrL", 8);
  const box = (bx, by, bw, bh, parts) => {
    g.append("rect").attr("x", bx).attr("y", by).attr("width", bw).attr("height", bh).attr("fill", "#fff").attr("stroke", GRAY).attr("stroke-width", 2.5);
    text(g, bx + bw / 2, by + bh / 2, parts, { size: 29, central: true, fill: "#6e6e6e", subScale: 0.7, subDy: 0.28 });
  };
  box(1163.5, 790.3, 36.5, 41.5, ["I", ["K"]]);
  box(1168, 947.3, 63.4, 41.8, ["I", ["Ca,L"]]);
  box(1149.8, 1155.2, 62.5, 44, ["I", ["K1"]]);
  g.append("line").attr("x1", 1200.9).attr("y1", 825.2).attr("x2", 1257.9).attr("y2", 869.2).attr("stroke", GRAY).attr("stroke-width", 2.5).attr("marker-end", "url(#arrS)");
  g.append("line").attr("x1", 1253.3).attr("y1", 929.7).attr("x2", 1253.3).attr("y2", 1010.4).attr("stroke", GRAY).attr("stroke-width", 2.5).attr("marker-end", "url(#arrS)").attr("marker-start", "url(#arrS)");
  g.append("line").attr("x1", 1212.3).attr("y1", 1171.7).attr("x2", 1262.4).attr("y2", 1028).attr("stroke", GRAY).attr("stroke-width", 2.5).attr("marker-end", "url(#arrL)");
  g.append("line").attr("x1", 1212.3).attr("y1", 1175.4).attr("x2", 1257.9).attr("y2", 1091).attr("stroke", GRAY).attr("stroke-width", 2.5).attr("marker-end", "url(#arrL)");
}

// ---------------- Panel E ----------------
{
  const g = svg.append("g");
  const x = d3.scaleLinear().domain([-130, 50]).range([1487.9, 1929.5]);
  const y = d3.scaleLinear().domain([-5, 5]).range([1148.2, 705.8]);
  hline(g, x(-130), x(50), y(0), 2.5, "#8c8c8c");
  const axY = g.append("g").attr("transform", `translate(${x(-130)},0)`)
    .call(d3.axisLeft(y).tickValues(eTicksY).tickFormat(d => String(d)).tickSize(9).tickPadding(7.5).tickSizeOuter(0));
  styleAxis(axY, 21, true, 2.7);
  const axX = g.append("g").attr("transform", `translate(0,${y(-5)})`)
    .call(d3.axisBottom(x).tickValues(eTicksX).tickFormat(d => String(d)).tickSize(6.5).tickPadding(13.5).tickSizeOuter(0));
  styleAxis(axX, 21, true, 2.7);
  const ln = ys => d3.line().x((d, i) => x(eV[i])).y(d => y(d))(ys);
  g.append("path").attr("d", ln(eCCM)).attr("fill", "none").attr("stroke", "#000").attr("stroke-width", 3);
  g.append("path").attr("d", ln(eEATs)).attr("fill", "none").attr("stroke", "#000").attr("stroke-width", 3);
  errBars(g, eV, eCCM, eCCMsem, x, y, 9, 2.2);
  errBars(g, eV, eEATs, eEATsSem, x, y, 9, 2.2);
  g.selectAll(null).data(eCCM).enter().append("circle").attr("cx", (d, i) => x(eV[i])).attr("cy", d => y(d)).attr("r", 9).attr("fill", "#151515").attr("stroke", "#000").attr("stroke-width", 1);
  g.selectAll(null).data(eEATs).enter().append("circle").attr("cx", (d, i) => x(eV[i])).attr("cy", d => y(d)).attr("r", 9).attr("fill", MRED);
  g.append("circle").attr("cx", 1523.4).attr("cy", 716.5).attr("r", 10).attr("fill", "#151515");
  g.append("circle").attr("cx", 1523.4).attr("cy", 748.3).attr("r", 10).attr("fill", MRED);
  text(g, 1544.8, 716.5, "CCM (n=10)", { size: 24, anchor: "start", central: true });
  text(g, 1544.8, 748.3, "EATs (n=11)", { size: 24, anchor: "start", central: true });
  text(g, 1712, 1216, "Membrane potential (mV)", { size: 24, bold: true, central: true });
  text(g, 1408.7, 919.4, "Quasi steady-state current (pA/pF)", { size: 24, bold: true, central: true, rot: -90 });
}

// ---------------- Panel F (IK1) ----------------
{
  const g = svg.append("g");
  const y = d3.scaleLinear().domain([-6, 0]).range([1857.4, 1431.6]);
  const xb = d3.scaleBand().domain(groupNames).range([154.4, 366.8]).paddingInner(0.197).paddingOuter(0.3);
  const ax = g.append("g").attr("transform", "translate(142.3,0)")
    .call(d3.axisLeft(y).tickValues(ik1Ticks).tickFormat(d => String(d)).tickSize(14.6).tickPadding(2.4).tickSizeOuter(0));
  styleAxis(ax, 24, true, 2.7);
  hline(g, 127.7, 378.5, y(0), 2.7);
  const bw = xb.bandwidth();
  const cc = xb("CCM") + bw / 2, ce = xb("EATs") + bw / 2;
  barSeries(g, cc, bw, y, ik1Mean[0], ik1Sd[0], "#000", ik1CCM, 5.2, 39, 2.7);
  barSeries(g, ce, bw, y, ik1Mean[1], ik1Sd[1], RED, ik1EATs, 5.2, 39, 2.7);
  text(g, cc, 1414, "CCM", { size: 26, bold: true, central: true });
  text(g, ce + 6, 1414, "EATs", { size: 26, bold: true, central: true });
  g.append("path").attr("d", `M${cc},1816V1831.8H${ce}V1816`).attr("fill", "none").attr("stroke", "#000").attr("stroke-width", 2.5);
  text(g, (cc + ce) / 2, 1863, "***", { size: 34, bold: true });
  grayBox(g, 235.7, 1326.3, 62.1, 57, ["I", ["K1"]], 33);
  text(g, 68.4, 1647.2, ["I", ["K1"], " (pA/pF) at -120 mV"], { size: 27, bold: true, central: true, rot: -90 });
}

// ---------------- Panel F (IK) ----------------
{
  const g = svg.append("g");
  const y = d3.scaleLinear().domain([0, 10]).range([1813.5, 1431.6]);
  const xb = d3.scaleBand().domain(groupNames).range([507.1, 699.6]).paddingInner(0.2).paddingOuter(0.3);
  const ax = g.append("g").attr("transform", "translate(496.1,0)")
    .call(d3.axisLeft(y).tickValues(ikTicks).tickSize(12.8).tickPadding(2).tickSizeOuter(0));
  styleAxis(ax, 25, true, 2.7);
  hline(g, 483.4, 709.1, y(0), 2.7);
  const bw = xb.bandwidth();
  const cc = xb("CCM") + bw / 2, ce = xb("EATs") + bw / 2;
  barSeries(g, cc, bw, y, ikMean[0], ikSd[0], "#000", ikCCM, 5.2, 36.5, 2.7);
  barSeries(g, ce, bw, y, ikMean[1], ikSd[1], RED, ikEATs, 5.2, 36.5, 2.7);
  text(g, cc, 1839.1, "CCM", { size: 26, bold: true, central: true });
  text(g, ce + 6, 1839.1, "EATs", { size: 26, bold: true, central: true });
  grayBox(g, 566.8, 1326.3, 63.4, 57, ["I", ["K"]], 33);
  text(g, 428.6, 1614.3, ["I", ["K"], " (pA/pF) at 40 mV"], { size: 27, bold: true, central: true, rot: -90 });
}

// ---------------- Panel G ----------------
{
  const g = svg.append("g");
  const x = d3.scaleLinear().domain([-50, 50]).range([816.7, 1169]);
  const y = d3.scaleLinear().domain([-5, 1]).range([1764.2, 1413.6]);
  const axY = g.append("g").attr("transform", `translate(${x(-50)},0)`)
    .call(d3.axisLeft(y).tickValues(gTicksY).tickFormat(d => String(d)).tickSize(5).tickPadding(9.4).tickSizeOuter(0));
  styleAxis(axY, 16, false, 2.7);
  const axX = g.append("g").attr("transform", `translate(0,${y(-5)})`)
    .call(d3.axisBottom(x).tickValues(gTicksX).tickFormat(d => String(d)).tickSize(5).tickPadding(6.6).tickSizeOuter(0));
  styleAxis(axX, 16, false, 2.7);
  const ln = ys => d3.line().x((d, i) => x(gV[i])).y(d => y(d))(ys);
  g.append("path").attr("d", ln(gCCM)).attr("fill", "none").attr("stroke", "#000").attr("stroke-width", 3.2);
  g.append("path").attr("d", ln(gEATs)).attr("fill", "none").attr("stroke", "#000").attr("stroke-width", 3.2);
  errBars(g, gV, gCCM, gCCMsem, x, y, 8, 2.2);
  errBars(g, gV, gEATs, gEATsSem, x, y, 8, 2.2);
  g.selectAll(null).data(gCCM).enter().append("circle").attr("cx", (d, i) => x(gV[i])).attr("cy", d => y(d)).attr("r", 7.6).attr("fill", "#151515");
  g.selectAll(null).data(gEATs).enter().append("circle").attr("cx", (d, i) => x(gV[i])).attr("cy", d => y(d)).attr("r", 7.6).attr("fill", MRED);
  g.append("circle").attr("cx", 1061.7).attr("cy", 1706.3).attr("r", 8.2).attr("fill", "#151515");
  g.append("circle").attr("cx", 1061.7).attr("cy", 1733.2).attr("r", 8.2).attr("fill", MRED);
  text(g, 1077.7, 1706.3, "CCM (n=10)", { size: 24, anchor: "start", central: true });
  text(g, 1077.7, 1733.2, "EATs (n=11)", { size: 24, anchor: "start", central: true });
  text(g, 985, 1816.5, "Membrane potential (mV)", { size: 27, bold: true, central: true });
  text(g, 763.3, 1575.5, ["I", ["Ca,L"], " (pA/pF)"], { size: 32, bold: true, central: true, rot: -90 });
}

// ---------------- Panel H ----------------
{
  const g = svg.append("g");
  const y = d3.scaleLinear().domain([-8, 0]).range([1825.2, 1440]);
  const xb = d3.scaleBand().domain(groupNames).range([1338.2, 1531.9]).paddingInner(0.2).paddingOuter(0.3);
  const ax = g.append("g").attr("transform", "translate(1328.3,0)")
    .call(d3.axisLeft(y).tickValues(caTicks).tickFormat(d => String(d)).tickSize(13.3).tickPadding(2.7).tickSizeOuter(0));
  styleAxis(ax, 23, true, 2.7);
  hline(g, 1315, 1535, y(0), 2.7);
  const bw = xb.bandwidth();
  const cc = xb("CCM") + bw / 2, ce = xb("EATs") + bw / 2;
  barSeries(g, cc, bw, y, caMean[0], caSd[0], "#000", caCCM, 4.9, 35.7, 2.7);
  barSeries(g, ce, bw, y, caMean[1], caSd[1], RED, caEATs, 4.9, 35.7, 2.7);
  text(g, cc, 1418.8, "CCM", { size: 24, bold: true, central: true });
  text(g, ce + 3, 1418.8, "EATs", { size: 24, bold: true, central: true });
  grayBox(g, 1375.7, 1328.5, 87, 56.3, ["I", ["Ca,L"]], 32);
  text(g, 1261.7, 1639.9, ["I", ["Ca,L"], " (pA/pF) at 0 mV"], { size: 26, bold: true, central: true, rot: -90 });
}

// ---------------- Panel I ----------------
{
  const g = svg.append("g");
  const x = d3.scaleLinear().domain([-80, -40]).range([1659.3, 1981.7]);
  const y = d3.scaleLinear().domain([-80, -40]).range([1741.2, 1419.5]);
  const axY = g.append("g").attr("transform", `translate(${x(-80)},0)`)
    .call(d3.axisLeft(y).tickValues(iTicks).tickFormat(d => String(d)).tickSize(6).tickPadding(13.3).tickSizeOuter(0));
  styleAxis(axY, 23, true, 2.7);
  const axX = g.append("g").attr("transform", `translate(0,${y(-80)})`)
    .call(d3.axisBottom(x).tickValues(iTicks).tickFormat(d => String(d)).tickSize(4.8).tickPadding(13.7).tickSizeOuter(0));
  styleAxis(axX, 23, true, 2.7);
  axX.select(".tick text").attr("dx", -12.6).attr("dy", "0.32em");
  g.append("line").attr("x1", x(iIdentity[0])).attr("y1", y(iIdentity[0])).attr("x2", x(iIdentity[1])).attr("y2", y(iIdentity[1]))
    .attr("stroke", "#000").attr("stroke-width", 2.4).attr("stroke-dasharray", "9,6");
  g.append("line").attr("x1", x(iFitX[0])).attr("y1", y(iFitY[0])).attr("x2", x(iFitX[1])).attr("y2", y(iFitY[1]))
    .attr("stroke", "#000").attr("stroke-width", 3);
  g.selectAll(null).data(iCCM).enter().append("circle").attr("cx", d => x(d[0])).attr("cy", d => y(d[1])).attr("r", 6.8).attr("fill", "#151515");
  g.selectAll(null).data(iEATs).enter().append("circle").attr("cx", d => x(d[0])).attr("cy", d => y(d[1])).attr("r", 6.8).attr("fill", MRED);
  g.append("circle").attr("cx", 1840).attr("cy", 1688.2).attr("r", 7.7).attr("fill", "#151515");
  g.append("circle").attr("cx", 1840).attr("cy", 1716.7).attr("r", 7.7).attr("fill", MRED);
  text(g, 1858.3, 1688.2, "CCM (n=10)", { size: 22, anchor: "start", central: true });
  text(g, 1858.3, 1716.7, "EATs (n=11)", { size: 22, anchor: "start", central: true });
  text(g, 1821.7, 1806.2, "MDP (mV)", { size: 27, bold: true, central: true });
  text(g, 1585, 1577.8, ["E", ["rev"], " (mV)"], { size: 27, bold: true, central: true, rot: -90 });
}
</script>
</body></html>
